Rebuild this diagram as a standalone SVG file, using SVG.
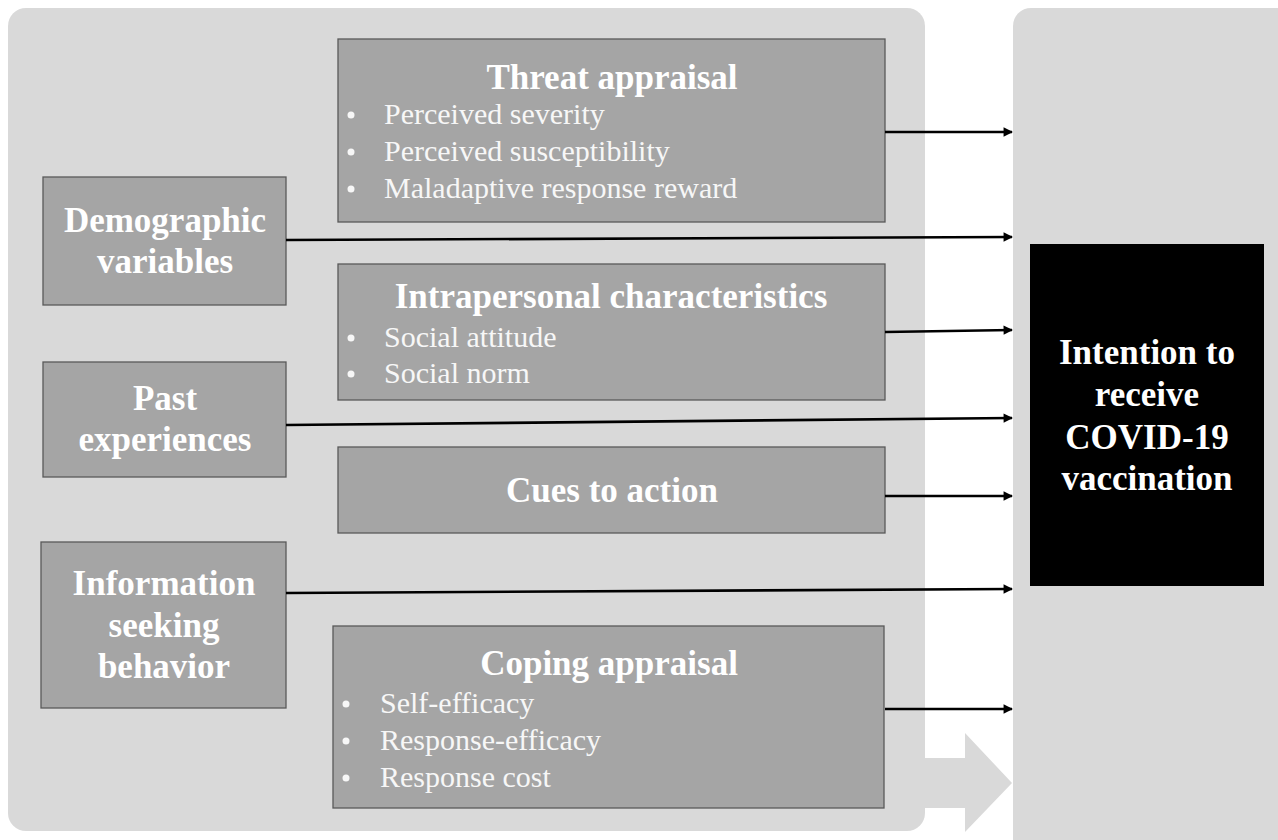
<svg xmlns="http://www.w3.org/2000/svg" width="1278" height="840" viewBox="0 0 1278 840">
<defs>
<style>
.panel{fill:#d9d9d9}
.box{fill:#a5a5a5;stroke:#595959;stroke-width:1.3}
.ttl{font-family:"Liberation Serif","Times New Roman",serif;font-weight:bold;font-size:35px;fill:#ffffff;text-anchor:middle}
.itm{font-family:"Liberation Serif","Times New Roman",serif;font-size:30px;fill:#f7f7f7}
.bul{fill:#f7f7f7}
.con{stroke:#000;stroke-width:2.6;fill:none;marker-end:url(#ah)}
</style>
<marker id="ah" viewBox="0 0 10 10" refX="9" refY="5" markerWidth="4.2" markerHeight="3.6" orient="auto" markerUnits="strokeWidth">
<path d="M0,0 L10,5 L0,10 z" fill="#000"/>
</marker>
</defs>
<rect width="1278" height="840" fill="#ffffff"/>
<g id="background">
<rect class="panel" x="8" y="8" width="917" height="823" rx="18"/>
<rect class="panel" x="1013" y="8" width="290" height="850" rx="18"/>
<polygon class="panel" points="900,758 965,758 965,733 1012,783 965,832 965,808 900,808"/>
</g>
<g id="threat">
<rect class="box" x="338" y="39" width="547" height="183"/>
<text class="ttl" x="612" y="89">Threat appraisal</text>
<circle class="bul" cx="351" cy="115" r="3.5"/>
<circle class="bul" cx="351" cy="152" r="3.5"/>
<circle class="bul" cx="351" cy="189" r="3.5"/>
<text class="itm" x="384" y="124">Perceived severity</text>
<text class="itm" x="384" y="161">Perceived susceptibility</text>
<text class="itm" x="384" y="198">Maladaptive response reward</text>
</g>
<g id="demographic">
<rect class="box" x="43" y="177" width="243" height="128"/>
<text class="ttl" x="165" y="232">Demographic</text>
<text class="ttl" x="165" y="273">variables</text>
</g>
<g id="intrapersonal">
<rect class="box" x="338" y="264" width="547" height="136"/>
<text class="ttl" x="611" y="308">Intrapersonal characteristics</text>
<circle class="bul" cx="351" cy="338" r="3.5"/>
<circle class="bul" cx="351" cy="374" r="3.5"/>
<text class="itm" x="384" y="347">Social attitude</text>
<text class="itm" x="384" y="383">Social norm</text>
</g>
<g id="past">
<rect class="box" x="43" y="362" width="243" height="115"/>
<text class="ttl" x="165" y="410">Past</text>
<text class="ttl" x="165" y="451">experiences</text>
</g>
<g id="cues">
<rect class="box" x="338" y="447" width="547" height="86"/>
<text class="ttl" x="612" y="502">Cues to action</text>
</g>
<g id="information">
<rect class="box" x="41" y="542" width="245" height="166"/>
<text class="ttl" x="164" y="595">Information</text>
<text class="ttl" x="164" y="637">seeking</text>
<text class="ttl" x="164" y="678">behavior</text>
</g>
<g id="coping">
<rect class="box" x="333" y="626" width="551" height="182"/>
<text class="ttl" x="609" y="675">Coping appraisal</text>
<circle class="bul" cx="346" cy="704" r="3.5"/>
<circle class="bul" cx="346" cy="741" r="3.5"/>
<circle class="bul" cx="346" cy="778" r="3.5"/>
<text class="itm" x="380" y="713">Self-efficacy</text>
<text class="itm" x="380" y="750">Response-efficacy</text>
<text class="itm" x="380" y="787">Response cost</text>
</g>
<g id="intention">
<rect x="1030" y="244" width="234" height="342" fill="#000"/>
<text class="ttl" x="1147" y="364">Intention to</text>
<text class="ttl" x="1147" y="406">receive</text>
<text class="ttl" x="1147" y="449">COVID-19</text>
<text class="ttl" x="1147" y="490">vaccination</text>
</g>
<g id="connectors">
<path class="con" d="M885,132 L1012,132"/>
<path class="con" d="M286,240 L1012,237"/>
<path class="con" d="M885,332 L1012,330"/>
<path class="con" d="M286,425 L1012,418"/>
<path class="con" d="M885,496 L1012,496"/>
<path class="con" d="M286,593 L1012,589"/>
<path class="con" d="M885,709 L1012,709"/>
</g>
</svg>
